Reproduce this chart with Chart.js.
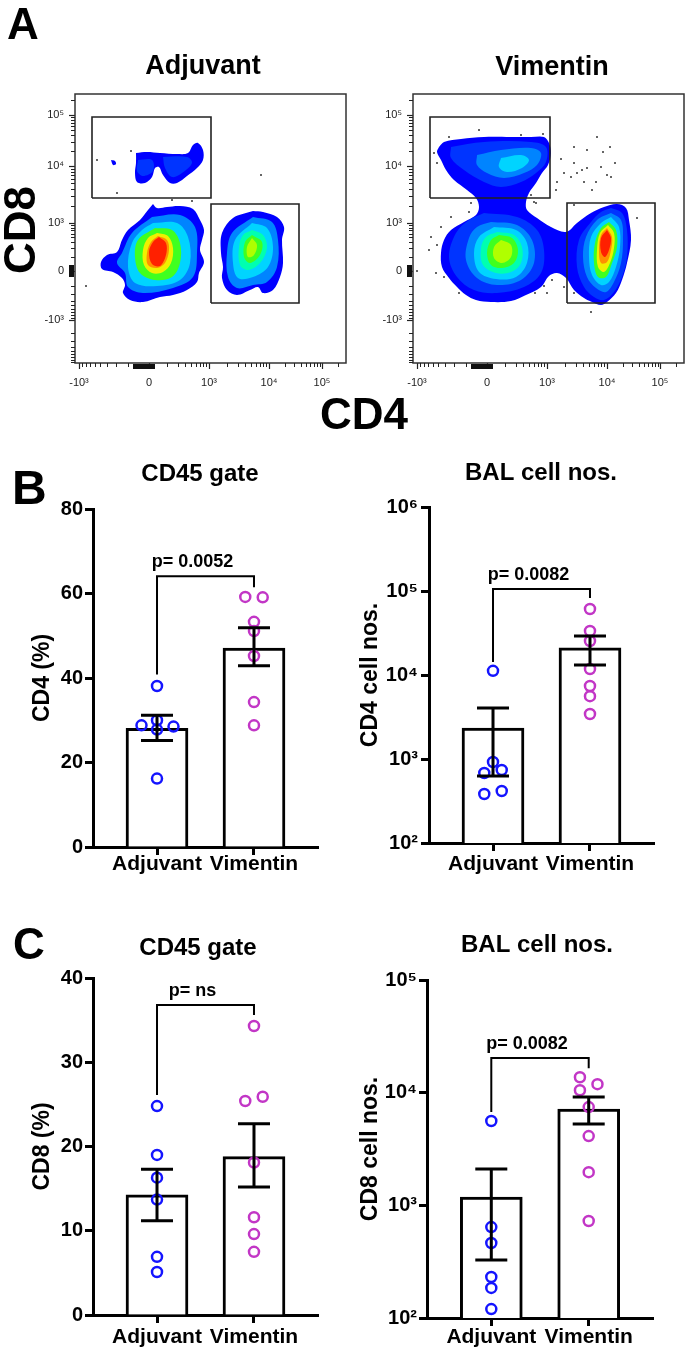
<!DOCTYPE html>
<html><head><meta charset="utf-8">
<script src="https://cdn.jsdelivr.net/npm/chart.js@4.4.1/dist/chart.umd.min.js"></script>
<style>
html,body{margin:0;padding:0;background:#fff;}
body{width:688px;height:1354px;position:relative;overflow:hidden;font-family:'Liberation Sans',Arial,sans-serif;}
canvas{position:absolute;}
.lbl{position:absolute;font-weight:bold;line-height:1;white-space:nowrap;color:#000;}
</style></head><body>
<canvas id="flowAdj" width="406" height="440" style="left:0;top:0"></canvas>
<canvas id="flowVim" width="416" height="440" style="left:344px;top:0"></canvas>
<canvas id="bPct" width="400" height="450" style="left:0;top:440px"></canvas>
<canvas id="bNum" width="394" height="450" style="left:344px;top:440px"></canvas>
<canvas id="cPct" width="396" height="464" style="left:0;top:890px"></canvas>
<canvas id="cNum" width="386" height="464" style="left:344px;top:890px"></canvas>
<div class="lbl" style="left:7px;top:2px;font-size:44px">A</div>
<div class="lbl" style="left:12px;top:464px;font-size:48px">B</div>
<div class="lbl" style="left:13px;top:922px;font-size:44px">C</div>
<div class="lbl" style="left:-24px;top:208px;width:88px;height:44px;font-size:44px;text-align:center;transform:rotate(-90deg)">CD8</div>
<div class="lbl" style="left:320px;top:392px;font-size:44px">CD4</div>
<script>
// ================= DATA =================
const groups = ['Adjuvant', 'Vimentin'];

// Panel B – CD4 % of CD45 gate
const cd4PctAdj  = [38.1, 30.0, 28.8, 28.5, 27.8, 16.2];
const cd4PctAdjX = [0, 0, -0.16, 0.17, 0, 0];
const cd4PctVim  = [59.2, 59.1, 53.3, 51.1, 45.2, 34.3, 28.8];
const cd4PctVimX = [-0.09, 0.09, 0, 0, 0, 0, 0];
const cd4PctMean = [28.1, 47.1];
const cd4PctLo   = [25.2, 42.9];
const cd4PctHi   = [31.2, 51.9];
const cd4PctBracket = [64.1, 40.8, 61.5];       // bar height, left leg end, right leg end
const cd4PctP = 'p= 0.0052';

// Panel B – CD4 BAL cell numbers
const cd4NumAdj  = [11200, 920, 681, 740, 383, 416];
const cd4NumAdjX = [0, 0, -0.09, 0.09, -0.09, 0.09];
const cd4NumVim  = [61000, 33400, 25400, 11800, 7400, 5600, 3430];
const cd4NumVimX = [0, 0, 0, 0, 0, 0, 0];
const cd4NumMean = [2340, 21000];
const cd4NumLo   = [628, 13150];
const cd4NumHi   = [4050, 29100];
const cd4NumBracket = [105700, 14300, 82600];
const cd4NumP = 'p= 0.0082';

// Panel C – CD8 % of CD45 gate
const cd8PctAdj  = [24.8, 19.0, 16.3, 13.7, 6.9, 5.1];
const cd8PctAdjX = [0, 0, 0, 0, 0, 0];
const cd8PctVim  = [34.3, 25.4, 25.9, 18.1, 11.6, 9.6, 7.5];
const cd8PctVimX = [0, -0.09, 0.09, 0, 0, 0, 0];
const cd8PctMean = [14.25, 18.8];
const cd8PctLo   = [11.2, 15.2];
const cd8PctHi   = [17.3, 22.7];
const cd8PctBracket = [36.8, 26.1, 35.6];
const cd8PctP = 'p= ns';

// Panel C – CD8 BAL cell numbers
const cd8NumAdj  = [5600, 641, 463, 231, 185, 120];
const cd8NumAdjX = [0, 0, 0, 0, 0, 0];
const cd8NumVim  = [13700, 11900, 10500, 7450, 4120, 1970, 726];
const cd8NumVimX = [-0.09, 0.09, -0.09, 0, 0, 0, 0];
const cd8NumMean = [1185, 7160];
const cd8NumLo   = [327, 5260];
const cd8NumHi   = [2100, 9140];
const cd8NumBracket = [20300, 6730, 16500];
const cd8NumP = 'p= 0.0082';

const pctTicks4 = [0, 20, 40, 60, 80];
const pctLabels4 = ['0', '20', '40', '60', '80'];
const pctTicks8 = [0, 10, 20, 30, 40];
const pctLabels8 = ['0', '10', '20', '30', '40'];
const logTicks6 = [1e2, 1e3, 1e4, 1e5, 1e6];
const logLabels6 = ['10²', '10³', '10⁴', '10⁵', '10⁶'];
const logTicks5 = [1e2, 1e3, 1e4, 1e5];
const logLabels5 = ['10²', '10³', '10⁴', '10⁵'];

// Panel A – flow cytometry (display channel units)
const cd4TickPos = [4, 74, 134, 194, 247];
const cd8TickPos = [43, 92, 140, 197, 248];
const flowTickLabels = ['-10³', '0', '10³', '10⁴', '10⁵'];

const adjGateCD8 = [[17,165],[136,165],[136,246],[17,246]];
const adjGateCD4 = [[136,60],[224,60],[224,159],[136,159]];
const vimGateCD8 = [[17,165],[137,165],[137,246],[17,246]];
const vimGateCD4 = [[154,60],[242,60],[242,160],[154,160]];

const adjCD8Levels = [0, 0, 1, 1];
const adjCD8Contours = [
  [[61,210],[72,211],[85,210],[102,209],[113,210],[118,218],[123,220],[128,213],[128,203],[122,195],[112,187],[102,180],[95,180],[88,188],[84,196],[80,195],[77,186],[70,180],[62,181],[60,190],[61,200]],
  [[36,203],[40,202],[41,199],[38,198]],
  [[88,206],[112,206],[117,200],[107,190],[97,186],[90,195]],
  [[63,203],[77,203],[78,192],[68,187],[62,192]]
];
const adjDNLevels = [0, 2, 3, 5, 7, 8, 9];
const adjDNContours = [
  [[78,159],[82,155],[92,156],[105,157],[118,154],[125,143],[129,133],[127,123],[125,113],[129,101],[124,90],[122,81],[112,73],[98,68],[85,66],[68,61],[55,63],[48,70],[50,78],[47,85],[38,91],[27,94],[26,101],[32,108],[42,111],[47,123],[53,133],[65,143],[73,153]],
  [[77,146],[105,148],[120,136],[122,110],[118,86],[98,75],[68,70],[53,76],[50,90],[42,100],[47,110],[57,130]],
  [[78,140],[102,140],[113,126],[115,100],[105,83],[82,77],[60,80],[53,96],[57,120],[67,133]],
  [[80,135],[97,133],[105,120],[105,100],[97,86],[80,83],[65,90],[60,106],[63,123]],
  [[82,130],[93,127],[98,115],[96,100],[88,91],[77,90],[69,98],[68,113],[73,125]],
  [[83,127],[92,123],[94,113],[90,100],[82,95],[73,98],[72,110],[76,121]],
  [[84,126],[91,120],[91,108],[85,97],[77,99],[74,111],[78,121]]
];
const adjCD4Levels = [0, 2, 3, 4, 5, 6];
const adjCD4Contours = [
  [[178,152],[188,151],[202,146],[209,136],[207,123],[208,100],[205,86],[198,73],[188,70],[183,76],[175,73],[162,68],[152,73],[147,85],[148,96],[146,110],[147,130],[158,145]],
  [[178,146],[197,141],[203,123],[202,96],[192,81],[178,78],[162,75],[153,86],[152,110],[157,130]],
  [[177,140],[192,135],[198,116],[193,96],[178,86],[163,85],[158,100],[160,123]],
  [[177,133],[188,128],[192,115],[185,100],[173,93],[165,98],[164,116],[168,128]],
  [[177,128],[187,121],[185,108],[175,100],[169,106],[170,121]],
  [[177,125],[182,118],[179,108],[173,106],[172,116]]
];
const adjEvents = [[22,203],[56,212],[42,170],[186,188],[11,77],[97,163],[117,162]];

const vimOuterLevels = [0];
const vimOuterContours = [
  [[26,216],[31,221],[48,224],[71,226],[98,226],[118,226],[131,226],[136,220],[138,210],[135,198],[129,190],[123,180],[116,170],[113,161],[114,153],[124,145],[138,136],[153,131],[164,140],[178,150],[191,156],[204,159],[213,155],[216,143],[218,123],[214,100],[209,83],[203,70],[194,61],[188,58],[179,61],[171,65],[161,73],[153,85],[144,90],[136,87],[128,76],[113,68],[98,62],[78,61],[63,63],[53,68],[44,76],[36,85],[29,96],[28,110],[31,123],[38,133],[51,141],[63,148],[66,156],[63,165],[54,173],[41,183],[33,193],[28,203],[24,211]]
];
const vimCD8Levels = [1, 2, 3];
const vimCD8Contours = [
  [[38,216],[71,221],[118,221],[133,216],[133,201],[123,190],[108,181],[88,176],[71,181],[51,193],[38,205]],
  [[64,208],[88,213],[118,215],[128,210],[124,198],[111,190],[91,185],[74,190],[64,198]],
  [[88,205],[108,208],[116,203],[109,195],[94,191],[86,196]]
];
const vimDNLevels = [1, 2, 3, 4, 5, 6];
const vimDNContours = [
  [[71,150],[104,146],[124,133],[131,113],[128,90],[111,76],[84,70],[61,73],[44,86],[36,106],[43,130],[56,143]],
  [[78,141],[104,138],[119,123],[121,100],[108,83],[84,78],[64,85],[53,103],[56,125],[64,136]],
  [[81,136],[103,133],[114,120],[114,100],[103,86],[83,84],[66,91],[61,110],[66,126]],
  [[84,131],[101,128],[109,116],[108,100],[98,91],[83,90],[70,98],[68,115],[73,126]],
  [[86,128],[99,125],[105,113],[101,100],[89,95],[78,98],[74,110],[78,123]],
  [[88,123],[98,118],[98,106],[89,100],[81,105],[81,116]]
];
const vimCD4Levels = [1, 2, 3, 5, 7, 8, 9];
const vimCD4Contours = [
  [[198,155],[209,150],[214,133],[214,106],[209,86],[201,71],[191,63],[181,66],[171,76],[164,96],[166,123],[178,141],[188,151]],
  [[198,150],[208,143],[210,123],[208,100],[201,81],[193,71],[183,75],[174,86],[170,106],[173,126],[184,143]],
  [[198,146],[206,136],[207,116],[203,96],[196,81],[188,78],[179,88],[176,106],[178,126],[188,140]],
  [[196,141],[203,133],[204,116],[199,100],[193,86],[185,86],[181,100],[182,120],[188,135]],
  [[195,138],[201,130],[201,115],[197,100],[191,91],[185,96],[184,113],[187,130]],
  [[194,135],[199,126],[198,113],[194,101],[188,100],[186,113],[188,128]],
  [[194,133],[198,125],[196,113],[192,106],[188,111],[188,125]]
];
const vimEvents = [[66,233],[36,226],[108,228],[130,229],[184,226],[161,216],[174,213],[190,211],[197,216],[148,204],[161,200],[169,193],[188,196],[202,200],[151,190],[158,186],[164,190],[174,195],[194,188],[198,186],[144,181],[171,181],[183,181],[179,173],[143,173],[121,161],[123,160],[58,160],[56,151],[38,146],[28,136],[18,126],[24,118],[16,113],[23,90],[31,86],[4,92],[46,70],[122,70],[134,70],[139,83],[131,77],[151,76],[161,70],[178,51],[224,145],[161,158],[118,168],[24,200],[21,210]];

// ================= STYLE / RENDER =================
const FONT = "'Liberation Sans', Arial, sans-serif";
Chart.defaults.font.family = FONT;
Chart.defaults.color = '#000';
Chart.defaults.animation = false;
Chart.defaults.plugins.legend.display = false;
Chart.defaults.plugins.tooltip.enabled = false;

const densityColors = ['#0000ff','#0034ff','#0084ff','#00d4ff','#00ffb0','#40ff20','#b0ff00','#f0f000','#ff9000','#ff2000'];
const BLUE = '#1414ff', MAGENTA = '#c236c6';

function padAxis(w) {
  return {type:'linear', axis:'y', position:'right', display:true,
    grid:{display:false, drawTicks:false}, ticks:{display:false}, border:{display:false},
    afterFit: s => { s.width = w; }};
}

function barChart(id, o) {
  const decor = {
    id: 'decor',
    afterDatasetsDraw(chart) {
      const {ctx, scales:{x, y}} = chart;
      ctx.save();
      ctx.strokeStyle = '#000';
      ctx.lineWidth = 3;
      o.mean.forEach((m, i) => {
        const px = x.getPixelForValue(i);
        const yl = y.getPixelForValue(o.lo[i]), yh = y.getPixelForValue(o.hi[i]);
        ctx.beginPath();
        ctx.moveTo(px, yl); ctx.lineTo(px, yh);
        ctx.moveTo(px - 16, yl); ctx.lineTo(px + 16, yl);
        ctx.moveTo(px - 16, yh); ctx.lineTo(px + 16, yh);
        ctx.stroke();
      });
      const [by, bl, br] = o.bracket;
      const x0 = x.getPixelForValue(0), x1 = x.getPixelForValue(1), yb = y.getPixelForValue(by);
      ctx.lineWidth = 2;
      ctx.beginPath();
      ctx.moveTo(x0, y.getPixelForValue(bl)); ctx.lineTo(x0, yb);
      ctx.lineTo(x1, yb); ctx.lineTo(x1, y.getPixelForValue(br));
      ctx.stroke();
      ctx.font = 'bold 18px ' + FONT;
      ctx.fillStyle = '#000'; ctx.textAlign = 'center'; ctx.textBaseline = 'middle';
      ctx.fillText(o.pText, (x0 + x1) / 2 - 13, yb - 14);
      ctx.restore();
    }
  };
  new Chart(document.getElementById(id), {
    type: 'bar',
    data: { datasets: [
      { type:'bar', data: o.mean.map((v, i) => ({x:i, y:v})), backgroundColor:'#fff', borderColor:'#000', borderWidth:3, barThickness:62, order:3 },
      { type:'scatter', data: o.adj.map((v, i) => ({x:0 + o.adjX[i], y:v})), pointRadius:5, pointBorderWidth:2.5, pointBackgroundColor:'rgba(0,0,0,0)', pointBorderColor:BLUE, borderColor:BLUE, order:1 },
      { type:'scatter', data: o.vim.map((v, i) => ({x:1 + o.vimX[i], y:v})), pointRadius:5, pointBorderWidth:2.5, pointBackgroundColor:'rgba(0,0,0,0)', pointBorderColor:MAGENTA, borderColor:MAGENTA, order:1 }
    ]},
    options: {
      responsive:false, devicePixelRatio:1,
      layout:{padding:0},
      plugins:{
        title:{display:true, text:o.title, color:'#000', font:{size:24, weight:'bold'}, padding:o.titlePad}
      },
      scales:{
        x:{type:'linear', min:-0.66, max:1.66, offset:false,
          afterBuildTicks: s => { s.ticks = groups.map((g, i) => ({value:i})); },
          ticks:{callback:(v, i) => groups[i], font:{size:21, weight:'bold'}, color:'#000', padding:o.xPad, autoSkip:false, maxRotation:0},
          grid:{offset:false, drawOnChartArea:false, drawTicks:true, tickLength:8, tickWidth:3, tickColor:'#000'},
          border:{display:true, width:3, color:'#000'},
          afterFit: s => { s.height = o.xH; }},
        y:{type:o.log ? 'logarithmic' : 'linear', min:o.yTicks[0], max:o.yTicks[o.yTicks.length - 1],
          afterBuildTicks: s => { s.ticks = o.yTicks.map(v => ({value:v})); },
          ticks:{callback:(v, i) => o.yLabels[i], font:{size:20, weight:'bold'}, color:'#000', padding:o.yPad, autoSkip:false},
          grid:{drawOnChartArea:false, drawTicks:true, tickLength:8, tickWidth:3, tickColor:'#000'},
          border:{display:true, width:3, color:'#000'},
          title:{display:true, text:o.yTitle, color:'#000', font:{size:23, weight:'bold'}, padding:{top:o.yTitlePad, bottom:0}},
          afterFit: s => { s.width = o.yW; }},
        pad: padAxis(o.padR)
      }
    },
    plugins:[decor]
  });
}

barChart('bPct', {title:'CD45 gate', yTitle:'CD4 (%)', log:false, yTicks:pctTicks4, yLabels:pctLabels4,
  mean:cd4PctMean, lo:cd4PctLo, hi:cd4PctHi, adj:cd4PctAdj, adjX:cd4PctAdjX, vim:cd4PctVim, vimX:cd4PctVimX,
  bracket:cd4PctBracket, pText:cd4PctP,
  titlePad:{top:20, bottom:20.2}, yW:93, xH:43, padR:82, yTitlePad:29.2, xPad:-3, yPad:2});
barChart('bNum', {title:'BAL cell nos.', yTitle:'CD4 cell nos.', log:true, yTicks:logTicks6, yLabels:logLabels6,
  mean:cd4NumMean, lo:cd4NumLo, hi:cd4NumHi, adj:cd4NumAdj, adjX:cd4NumAdjX, vim:cd4NumVim, vimX:cd4NumVimX,
  bracket:cd4NumBracket, pText:cd4NumP,
  titlePad:{top:19, bottom:19.2}, yW:85, xH:47, padR:84, yTitlePad:13.2, xPad:1, yPad:3});
barChart('cPct', {title:'CD45 gate', yTitle:'CD8 (%)', log:false, yTicks:pctTicks8, yLabels:pctLabels8,
  mean:cd8PctMean, lo:cd8PctLo, hi:cd8PctHi, adj:cd8PctAdj, adjX:cd8PctAdjX, vim:cd8PctVim, vimX:cd8PctVimX,
  bracket:cd8PctBracket, pText:cd8PctP,
  titlePad:{top:43.6, bottom:15.6}, yW:93, xH:39, padR:78, yTitlePad:29.2, xPad:2, yPad:2});
barChart('cNum', {title:'BAL cell nos.', yTitle:'CD8 cell nos.', log:true, yTicks:logTicks5, yLabels:logLabels5,
  mean:cd8NumMean, lo:cd8NumLo, hi:cd8NumHi, adj:cd8NumAdj, adjX:cd8NumAdjX, vim:cd8NumVim, vimX:cd8NumVimX,
  bracket:cd8NumBracket, pText:cd8NumP,
  titlePad:{top:40.6, bottom:20.6}, yW:83, xH:36, padR:77, yTitlePad:13.2, xPad:-1, yPad:2});

// ---------- flow plots ----------
function minorTicks(major, maxV) {
  const lg = [2,3,4,5,6,7,8,9].map(m => Math.log10(m));
  const out = [];
  lg.forEach(f => out.push(major[1] + (major[0] - major[1]) * f));
  for (let i = 1; i < major.length - 1; i++) lg.forEach(f => out.push(major[i] + (major[i + 1] - major[i]) * f));
  const d = major[major.length - 1] - major[major.length - 2];
  lg.forEach(f => { const v = major[major.length - 1] + d * f; if (v < maxV) out.push(v); });
  const d0 = major[1] - major[0];
  lg.forEach(f => { const v = major[0] - d0 * f * 0.9; if (v > 0) out.push(v); });
  return out;
}

function flowChart(id, o) {
  const datasets = [];
  o.pops.forEach(([levels, contours]) => {
    contours.forEach((pts, k) => {
      const lvl = levels[k];
      const d = pts.map(p => ({x:p[0], y:p[1]}));
      d.push({x:pts[0][0], y:pts[0][1]});
      datasets.push({type:'line', data:d, fill:'shape', backgroundColor:densityColors[lvl], borderColor:densityColors[lvl],
        borderWidth:0, pointRadius:0, tension:0.35, order:100 - lvl});
    });
  });
  datasets.push({type:'scatter', data:o.events.map(p => ({x:p[0], y:p[1]})), pointRadius:1, pointBorderWidth:0,
    pointBackgroundColor:'#333', order:1});
  o.gates.forEach(g => {
    const d = g.map(p => ({x:p[0], y:p[1]}));
    d.push({x:g[0][0], y:g[0][1]});
    datasets.push({type:'line', data:d, fill:false, borderColor:'#222', borderWidth:1.6, pointRadius:0, tension:0, order:0});
  });
  const decor = {
    id:'flowDecor',
    afterDraw(chart) {
      const {ctx, chartArea:a, scales:{x, y}} = chart;
      ctx.save();
      ctx.strokeStyle = '#333'; ctx.lineWidth = 1.5;
      ctx.strokeRect(a.left, a.top, a.right - a.left, a.bottom - a.top);
      ctx.strokeStyle = '#222'; ctx.lineWidth = 1;
      ctx.beginPath();
      minorTicks(cd4TickPos, 271).forEach(v => { const px = Math.round(x.getPixelForValue(v)) + 0.5; ctx.moveTo(px, a.bottom); ctx.lineTo(px, a.bottom + 4); });
      minorTicks(cd8TickPos, 269).forEach(v => { const py = Math.round(y.getPixelForValue(v)) + 0.5; ctx.moveTo(a.left, py); ctx.lineTo(a.left - 4, py); });
      ctx.stroke();
      // dense tick cluster around zero
      ctx.fillStyle = '#111';
      const z0 = x.getPixelForValue(cd4TickPos[1] - 16), z1 = x.getPixelForValue(cd4TickPos[1] + 6);
      ctx.fillRect(z0, a.bottom + 1, z1 - z0, 5);
      const w0 = y.getPixelForValue(cd8TickPos[1] + 6), w1 = y.getPixelForValue(cd8TickPos[1] - 6);
      ctx.fillRect(a.left - 6, w0, 5, w1 - w0);
      ctx.restore();
    }
  };
  new Chart(document.getElementById(id), {
    type:'line',
    data:{datasets},
    options:{
      responsive:false, devicePixelRatio:1,
      layout:{padding:0},
      plugins:{ title:{display:true, text:o.title, color:'#000', font:{size:27, weight:'bold'}, padding:o.titlePad} },
      scales:{
        x:{type:'linear', min:0, max:271, offset:false,
          afterBuildTicks: s => { s.ticks = cd4TickPos.map(v => ({value:v})); },
          ticks:{callback:(v, i) => flowTickLabels[i], font:{size:11}, color:'#222', padding:7, autoSkip:false, maxRotation:0},
          grid:{offset:false, drawOnChartArea:false, drawTicks:true, tickLength:6, tickWidth:1.2, tickColor:'#222'},
          border:{display:false},
          afterFit: s => { s.height = 77; }},
        y:{type:'linear', min:0, max:269,
          afterBuildTicks: s => { s.ticks = cd8TickPos.map(v => ({value:v})); },
          ticks:{callback:(v, i) => flowTickLabels[i], font:{size:11}, color:'#222', padding:5, autoSkip:false},
          grid:{drawOnChartArea:false, drawTicks:true, tickLength:6, tickWidth:1.2, tickColor:'#222'},
          border:{display:false},
          afterFit: s => { s.width = o.yW; }},
        pad: padAxis(o.padR)
      }
    },
    plugins:[decor]
  });
}

flowChart('flowAdj', {title:'Adjuvant', titlePad:{top:50.8, bottom:10.8}, yW:75, padR:60,
  pops:[[adjDNLevels, adjDNContours], [adjCD4Levels, adjCD4Contours], [adjCD8Levels, adjCD8Contours]],
  events:adjEvents, gates:[adjGateCD8, adjGateCD4]});
flowChart('flowVim', {title:'Vimentin', titlePad:{top:51.8, bottom:9.8}, yW:69, padR:76,
  pops:[[vimOuterLevels, vimOuterContours], [vimCD8Levels, vimCD8Contours], [vimDNLevels, vimDNContours], [vimCD4Levels, vimCD4Contours]],
  events:vimEvents, gates:[vimGateCD8, vimGateCD4]});
</script>
</body></html>
